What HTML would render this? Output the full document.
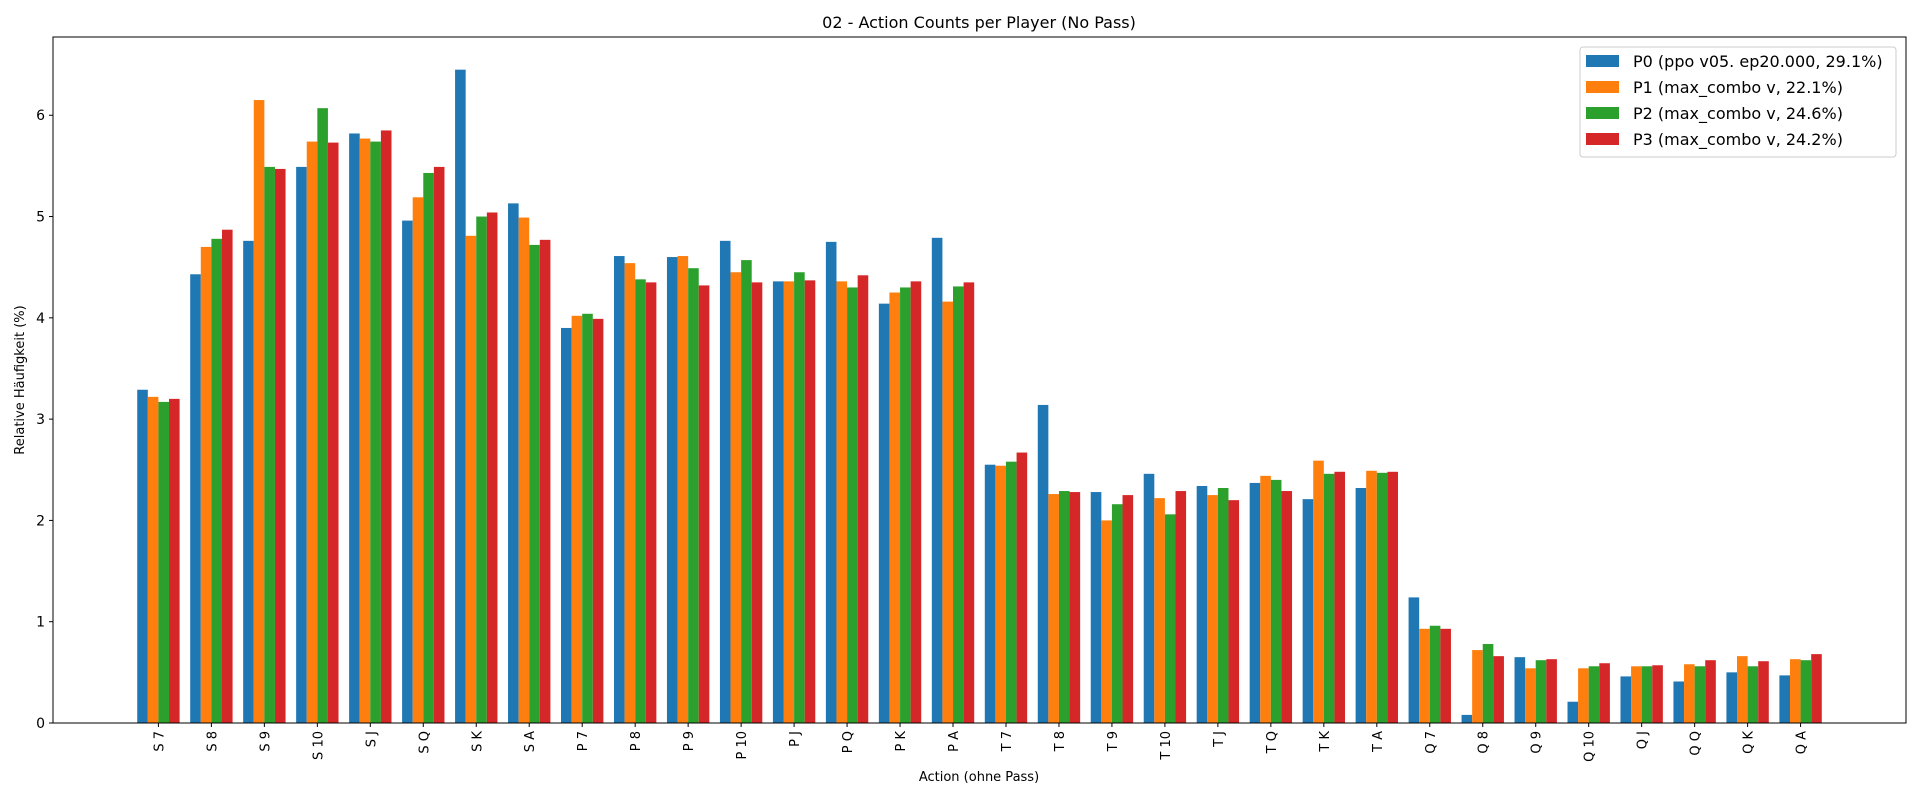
<!DOCTYPE html>
<html><head><meta charset="utf-8"><style>
body{margin:0;background:#fff;}
svg{display:block;font-family:"DejaVu Sans","Liberation Sans",sans-serif;}
</style></head><body>
<svg id="chart" width="1920" height="800" viewBox="0 0 1920 800" xmlns="http://www.w3.org/2000/svg">
<rect width="1920" height="800" fill="#fff"/>
<text x="979" y="28" font-size="16" text-anchor="middle">02 - Action Counts per Player (No Pass)</text>
<text x="979" y="781" font-size="13" text-anchor="middle">Action (ohne Pass)</text>
<text transform="translate(24,380) rotate(-90)" font-size="13" text-anchor="middle">Relative Häufigkeit (%)</text>
<g id="bars"></g>
<g id="axes"></g>
<g id="legend"></g>
</svg>
<script>
const categories = ["S 7","S 8","S 9","S 10","S J","S Q","S K","S A","P 7","P 8","P 9","P 10","P J","P Q","P K","P A","T 7","T 8","T 9","T 10","T J","T Q","T K","T A","Q 7","Q 8","Q 9","Q 10","Q J","Q Q","Q K","Q A"];
const p0 = [3.29,4.43,4.76,5.49,5.82,4.96,6.45,5.13,3.90,4.61,4.60,4.76,4.36,4.75,4.14,4.79,2.55,3.14,2.28,2.46,2.34,2.37,2.21,2.32,1.24,0.08,0.65,0.21,0.46,0.41,0.50,0.47];
const p1 = [3.22,4.70,6.15,5.74,5.77,5.19,4.81,4.99,4.02,4.54,4.61,4.45,4.36,4.36,4.25,4.16,2.54,2.26,2.00,2.22,2.25,2.44,2.59,2.49,0.93,0.72,0.54,0.54,0.56,0.58,0.66,0.63];
const p2 = [3.17,4.78,5.49,6.07,5.74,5.43,5.00,4.72,4.04,4.38,4.49,4.57,4.45,4.30,4.30,4.31,2.58,2.29,2.16,2.06,2.32,2.40,2.46,2.47,0.96,0.78,0.62,0.56,0.56,0.56,0.56,0.62];
const p3 = [3.20,4.87,5.47,5.73,5.85,5.49,5.04,4.77,3.99,4.35,4.32,4.35,4.37,4.42,4.36,4.35,2.67,2.28,2.25,2.29,2.20,2.29,2.48,2.48,0.93,0.66,0.63,0.59,0.57,0.62,0.61,0.68];
const seriesNames = ["P0 (ppo v05. ep20.000, 29.1%)","P1 (max_combo v, 22.1%)","P2 (max_combo v, 24.6%)","P3 (max_combo v, 24.2%)"];
const yTicks = [0,1,2,3,4,5,6];

const NS="http://www.w3.org/2000/svg";
const colors=["#1f77b4","#ff7f0e","#2ca02c","#d62728"];
const series=[p0,p1,p2,p3];
const L=53,R=1906,T=37,B=723;
const n=categories.length;
const xmin=-0.4-0.05*(n-1+0.8), xmax=(n-1)+0.4+0.05*(n-1+0.8);
const ymax=Math.max(...series.flat())*1.05;
function xs(v){return L+(v-xmin)/(xmax-xmin)*(R-L);}
function ys(v){return B-(v/ymax)*(B-T);}
function mk(tag,attrs,parent){const e=document.createElementNS(NS,tag);for(const k in attrs)e.setAttribute(k,attrs[k]);parent.appendChild(e);return e;}
const gb=document.getElementById('bars'),ga=document.getElementById('axes'),gl=document.getElementById('legend');
const w=0.2;
series.forEach((s,si)=>{
  s.forEach((v,i)=>{
    const x0=xs(i+(si-1.5)*w-w/2),x1=xs(i+(si-1.5)*w+w/2);
    const r=mk('rect',{x:x0,y:ys(v),width:x1-x0,height:ys(0)-ys(v),fill:colors[si]},gb);
    
    
  });
});
const fr=mk('rect',{x:L,y:T,width:R-L,height:B-T,fill:'none',stroke:'#000','stroke-width':1},ga);


yTicks.forEach(t=>{
  const y=ys(t);
  mk('line',{x1:L-4,x2:L,y1:y,y2:y,stroke:'#000'},ga);
  const tx=mk('text',{x:L-8,y:y+5,'font-size':14,'text-anchor':'end'},ga);
  tx.textContent=t;
  
  
});
categories.forEach((c,i)=>{
  const x=xs(i);
  mk('line',{x1:x,x2:x,y1:B,y2:B+4,stroke:'#000'},ga);
  const tx=mk('text',{transform:`translate(${x+5},${B+8}) rotate(-90)`,'font-size':13,'text-anchor':'end'},ga);
  tx.textContent=c;
  
  
});
const lb=mk('rect',{x:1580,y:47,width:316,height:110,rx:3,fill:'#fff','fill-opacity':0.8,stroke:'#ccc'},gl);


seriesNames.forEach((nm,i)=>{
  const y=61+i*26;
  const p=mk('rect',{x:1586,y:y-6,width:33,height:12,fill:colors[i]},gl);
  
  
  const t=mk('text',{x:1633,y:y+6,'font-size':16},gl);
  t.textContent=nm;
  
  
});
</script>
</body></html>
